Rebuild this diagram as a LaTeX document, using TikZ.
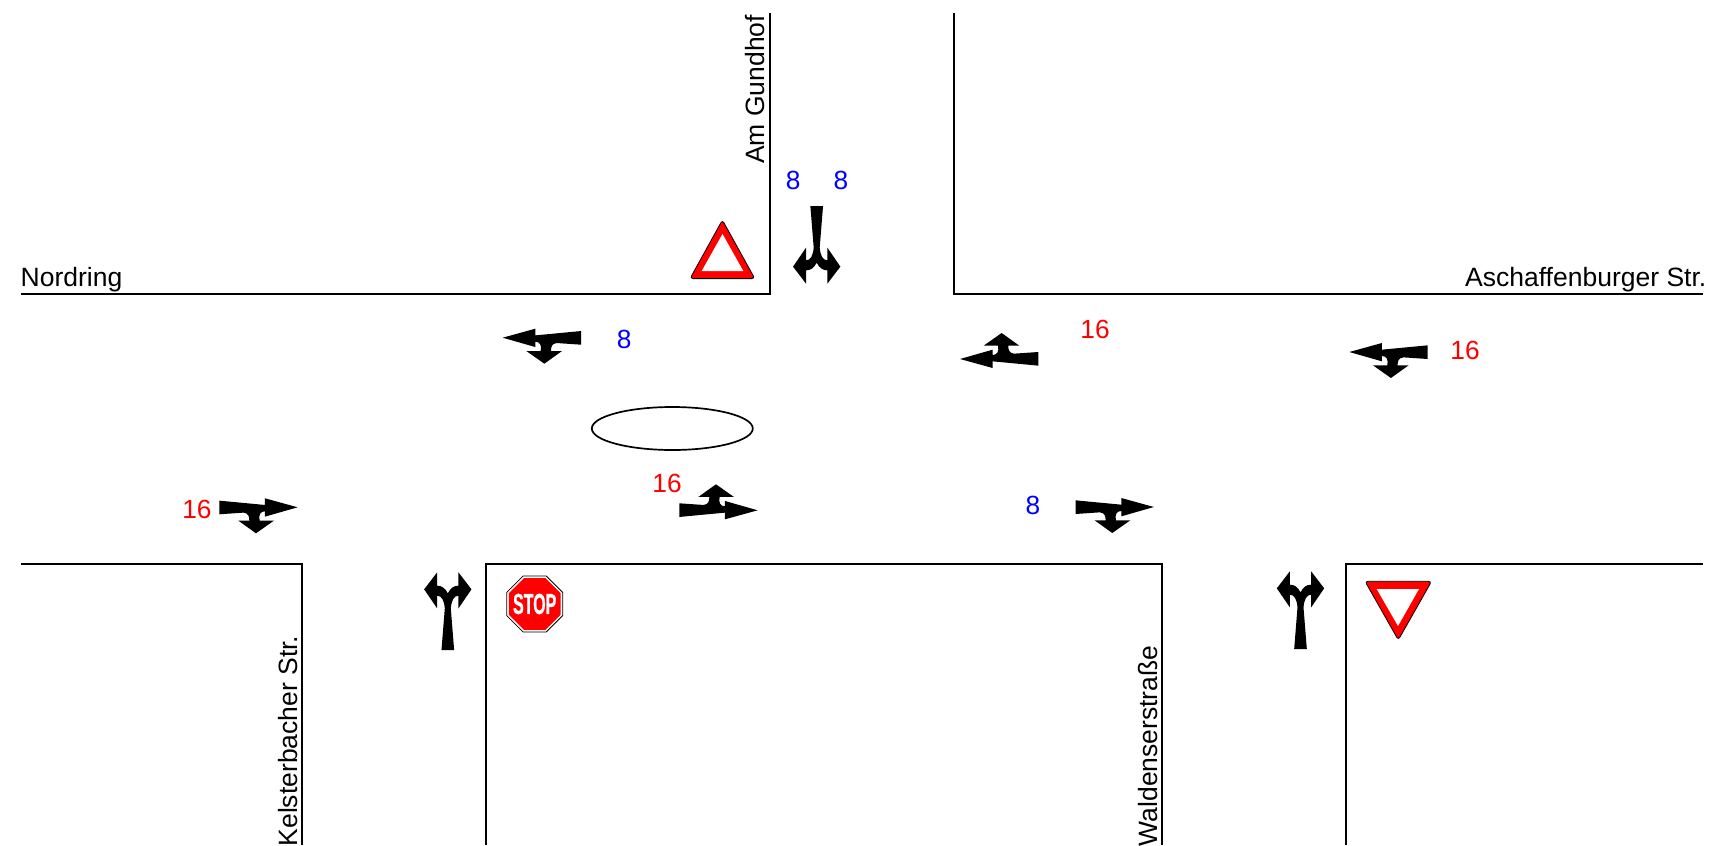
\documentclass[tikz,border=0pt]{standalone}
\usepackage{fontspec}
\usepackage{graphicx}
\setmainfont{Liberation Sans}
\newfontfamily\stopfont[FakeBold=1.2]{Liberation Sans Bold}
\definecolor{signred}{HTML}{FF0000}
\definecolor{numblue}{HTML}{0000FF}
\tikzset{
  kerb/.style={draw=black,line width=2pt,line join=miter},
  island/.style={draw=black,line width=1.7pt,fill=white},
  roadname/.style={font=\fontsize{26.5}{26.5}\selectfont,inner sep=0pt,text=black},
  numred/.style={font=\fontsize{26.3}{26.3}\selectfont,inner sep=0pt,text=signred},
  numblu/.style={font=\fontsize{26.3}{26.3}\selectfont,inner sep=0pt,text=numblue},
  signouter/.style={draw=black,line width=.8pt,fill=signred,rounded corners=3pt},
  signinner/.style={fill=white},
  turnarrow/.pic={
    \fill[black] (0,20) -- (137,7) -- (137,27) -- (235,0) -- (137,-28) -- (137,-12)
      .. controls (124,-12) and (117,-22) .. (121,-40) -- (164,-40) -- (110,-78) -- (57,-40) -- (90,-40)
      .. controls (90,-28) and (88,-18) .. (73,-16) -- (0,-21) -- cycle;
  },
  forkarrow/.pic={
    \fill[black] (-19,0) -- (19,0) -- (9,125)
      .. controls (11,148) and (18,163) .. (32,163) -- (32,125) -- (71,182) -- (32,233) -- (32,193)
      .. controls (18,193) and (8,186) .. (0,170)
      .. controls (-8,186) and (-18,193) .. (-32,193) -- (-32,233) -- (-71,182) -- (-32,125) -- (-32,163)
      .. controls (-18,163) and (-11,148) .. (-9,125) -- cycle;
  },
  ru/.style={xscale=.3333,yscale=.3333},
  rd/.style={xscale=.3333,yscale=-.3333},
  lu/.style={xscale=-.3333,yscale=.3333},
  ld/.style={xscale=-.3333,yscale=-.3333},
}
\begin{document}
\begin{tikzpicture}[x=1pt,y=-1pt]
\useasboundingbox (0,0) rectangle (1714,846);
% kerbs
\draw[kerb] (21,293.5) -- (770,293.5) -- (770,13);
\draw[kerb] (954,13) -- (954,293.5) -- (1703,293.5);
\draw[kerb] (21,564) -- (302,564) -- (302,845);
\draw[kerb] (486,845) -- (486,564) -- (1162,564) -- (1162,845);
\draw[kerb] (1346,845) -- (1346,564) -- (1703,564);
% island
\draw[island] (672.3,428.5) ellipse [x radius=80.5,y radius=21.5];
% road names
\node[roadname,anchor=base west] (nordring) at (20.5,286) {Nordring};
\node[roadname,anchor=base east] (aschaffenburger) at (1706.5,286) {Aschaffenburger Str.};
\node[roadname,anchor=base west,rotate=90] (gundhof) at (764,164) {Am Gundhof};
\node[roadname,anchor=base west,rotate=90] (kelsterbacher) at (297.5,846.5) {Kelsterbacher Str.};
\node[roadname,anchor=base west,rotate=90] (waldenser) at (1157,846.5) {Waldenserstraße};
% numbers
\node[numblu] (n1) at (793.3,180.5) {8};
\node[numblu] (n2) at (841,180.5) {8};
\node[numblu] (n3) at (624.3,339.5) {8};
\node[numblu] (n4) at (1033,505.5) {8};
\node[numred] (n5) at (1095,329.5) {16};
\node[numred] (n6) at (1465,350.5) {16};
\node[numred] (n7) at (667,483.5) {16};
\node[numred] (n8) at (197,509.5) {16};
% side arrows
\path (219.3,507.3) pic[rd] {turnarrow};
\path (1075.6,507) pic[rd] {turnarrow};
\path (679.3,510.3) pic[ru] {turnarrow};
\path (581,337.7) pic[ld] {turnarrow};
\path (1427.6,352) pic[ld] {turnarrow};
\path (1038.3,359) pic[lu] {turnarrow};
% fork arrows
\path (447.8,650) pic[rd] {forkarrow};
\path (1300.5,649) pic[rd] {forkarrow};
\path (816.7,206) pic[ru] {forkarrow};
% warning sign
\draw[signouter] (722.4,220) -- (754.8,278.6) -- (690,278.6) -- cycle;
\fill[signinner] (722.5,234) -- (743.3,271) -- (701.7,271) -- cycle;
% yield sign
\draw[signouter] (1365,581.3) -- (1431.6,581.3) -- (1398.3,640) -- cycle;
\fill[signinner] (1376.7,589) -- (1419,589) -- (1398,626) -- cycle;
% stop sign
\begin{scope}[shift={(534.7,604)}]
\draw[black,line width=.8pt,fill=white] (22.5:30.3) -- (67.5:30.3) -- (112.5:30.3) -- (157.5:30.3)
  -- (202.5:30.3) -- (247.5:30.3) -- (292.5:30.3) -- (337.5:30.3) -- cycle;
\fill[signred] (22.5:28) -- (67.5:28) -- (112.5:28) -- (157.5:28)
  -- (202.5:28) -- (247.5:28) -- (292.5:28) -- (337.5:28) -- cycle;
\node[inner sep=0pt,text=white,font=\fontsize{29}{29}\stopfont] (stoptext) at (0,0) {\scalebox{.55}[1]{STOP}};
\end{scope}
\end{tikzpicture}
\end{document}
